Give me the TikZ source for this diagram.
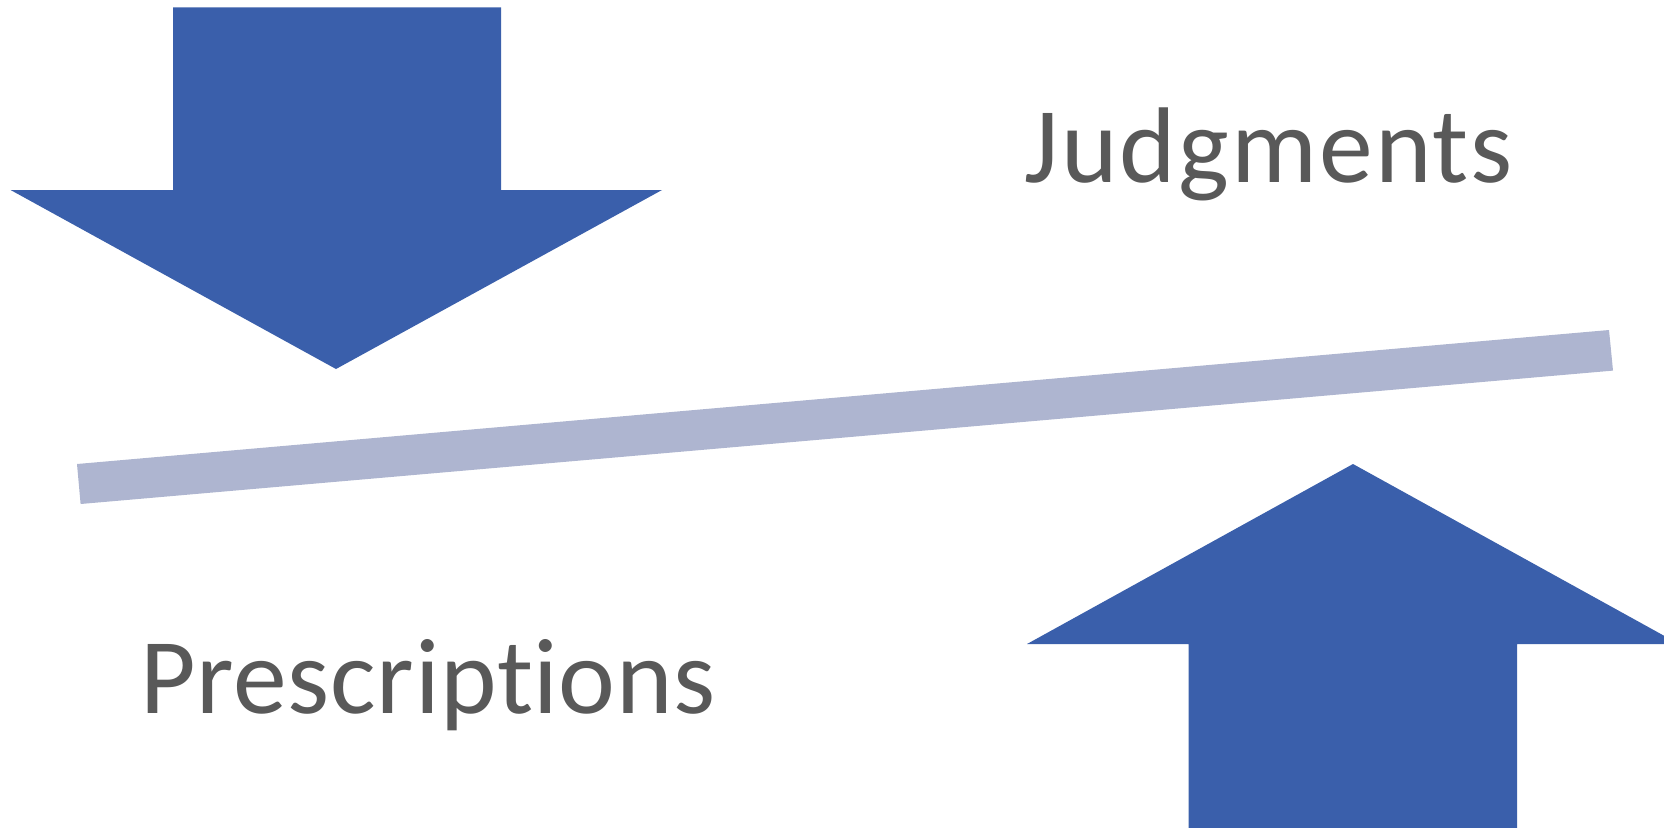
\documentclass[tikz,border=0pt]{standalone}
\usepackage{fontspec}
\setmainfont{Carlito}[Ligatures=NoCommon]
\newfontfamily\widecarlito{Carlito}[Ligatures=NoCommon,LetterSpace=2]
\newfontfamily\tightcarlito{Carlito}[Ligatures=NoCommon,LetterSpace=0.6]
\begin{document}
\begin{tikzpicture}[x=0.01cm,y=-0.01cm,
  arrowfill/.style={fill=arrowblue},
  beam/.style={fill=beamgrey},
  label/.style={inner sep=0pt,anchor=base west,text=labelgrey,font=\fontsize{30.6}{36}\selectfont}]
\definecolor{arrowblue}{HTML}{3A5FAB}
\definecolor{beamgrey}{HTML}{AEB5D0}
\definecolor{labelgrey}{HTML}{595959}
\useasboundingbox (0,0) rectangle (1664,827);
\begin{scope}
\clip (0,0) rectangle (1664,827);
% downward block arrow, top left
\fill[arrowfill] (173,7.4) -- (501,7.4) -- (501,190) -- (662,190) -- (336,369)
  -- (10.6,190) -- (173,190) -- cycle;
% tilted beam
\fill[beam] (77,464) -- (80.6,504) -- (1613,370.6) -- (1609,330) -- cycle;
% upward block arrow, bottom right
\fill[arrowfill] (1353,464) -- (1679,644) -- (1517,644) -- (1517,840)
  -- (1188.5,840) -- (1188.5,644) -- (1027,644) -- cycle;
\end{scope}
\node[label] (judg) at (1024,182.5) {\widecarlito Judgments};
\node[label] (presc) at (140,713) {\tightcarlito Prescriptions};
\end{tikzpicture}
\end{document}
